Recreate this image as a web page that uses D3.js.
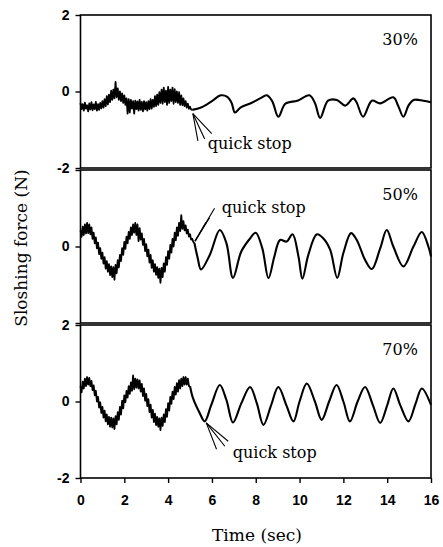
<!DOCTYPE html>
<html>
<head>
<meta charset="utf-8">
<script src="https://cdn.jsdelivr.net/npm/d3@7"></script>
<style>
  body { margin: 0; background: #fff; }
  .tick text { font-family: "Liberation Sans", Arial, sans-serif; font-weight: bold; font-size: 14px; fill: #000; }
  .serif { font-family: "DejaVu Serif", serif; fill: #000; }
</style>
</head>
<body>
<svg id="chart" width="443" height="547"></svg>
<script>
// ---- data ----
const fillLevels = ["30%", "50%", "70%"];
const xTickValues = [0, 2, 4, 6, 8, 10, 12, 14, 16];
const yTickValues = [[-2, 0, 2], [0], [-2, 0, 2]];

// before the quick stop: samples every 0.05 s, starting at t = 0
const sampleStep = 0.05;
const noisy30 = [
  -0.30, -0.46, -0.33, -0.50, -0.29, -0.45, -0.36, -0.52, -0.31, -0.47,
  -0.28, -0.49, -0.34, -0.46, -0.27, -0.50, -0.33, -0.48, -0.30, -0.44,
  -0.25, -0.42, -0.20, -0.38, -0.12, -0.34, -0.08, -0.28, 0.02, -0.22,
  0.05, -0.18, 0.25, -0.15, 0.08, -0.22, 0.00, -0.25, -0.05, -0.30,
  -0.10, -0.35, -0.18, -0.58, -0.20, -0.55, -0.22, -0.45, -0.25, -0.58,
  -0.24, -0.46, -0.26, -0.50, -0.22, -0.48, -0.27, -0.52, -0.25, -0.47,
  -0.28, -0.50, -0.25, -0.46, -0.20, -0.45, -0.22, -0.40, -0.12, -0.38,
  -0.08, -0.35, -0.02, -0.30, 0.05, -0.32, 0.10, -0.28, 0.02, -0.35,
  0.12, -0.30, 0.05, -0.25, 0.10, -0.32, 0.06, -0.28, 0.00, -0.30,
  -0.02, -0.35, -0.10, -0.36, -0.18, -0.38, -0.25, -0.42, -0.32, -0.45,
  -0.40, -0.47, -0.48];
const noisy50 = [
  0.42, 0.25, 0.52, 0.30, 0.58, 0.34, 0.62, 0.35, 0.58, 0.32,
  0.50, 0.20, 0.36, 0.08, 0.24, -0.05, 0.10, -0.20, -0.04, -0.32,
  -0.16, -0.45, -0.28, -0.58, -0.38, -0.66, -0.46, -0.75, -0.52, -0.80,
  -0.54, -0.87, -0.48, -0.70, -0.36, -0.55, -0.22, -0.38, -0.04, -0.22,
  0.12, -0.06, 0.26, 0.08, 0.38, 0.20, 0.50, 0.30, 0.58, 0.36,
  0.62, 0.30, 0.58, 0.14, 0.48, 0.18, 0.34, 0.04, 0.20, -0.12,
  0.06, -0.26, -0.08, -0.42, -0.22, -0.56, -0.36, -0.66, -0.46, -0.74,
  -0.54, -0.82, -0.58, -0.95, -0.56, -0.80, -0.44, -0.66, -0.28, -0.48,
  -0.12, -0.32, 0.04, -0.16, 0.20, 0.00, 0.36, 0.16, 0.50, 0.28,
  0.62, 0.40, 0.82, 0.46, 0.66, 0.42, 0.55, 0.34, 0.44, 0.26,
  0.32, 0.18, 0.20, 0.12, 0.09];
const noisy70 = [
  0.40, 0.24, 0.52, 0.34, 0.60, 0.40, 0.64, 0.44, 0.62, 0.40,
  0.54, 0.30, 0.42, 0.16, 0.28, 0.00, 0.12, -0.16, -0.02, -0.30,
  -0.14, -0.42, -0.24, -0.52, -0.34, -0.60, -0.40, -0.66, -0.42, -0.68,
  -0.44, -0.72, -0.38, -0.60, -0.28, -0.48, -0.14, -0.34, 0.02, -0.18,
  0.16, -0.02, 0.28, 0.10, 0.40, 0.20, 0.50, 0.28, 0.68, 0.32,
  0.60, 0.36, 0.58, 0.34, 0.55, 0.26, 0.46, 0.14, 0.34, 0.02,
  0.20, -0.12, 0.06, -0.28, -0.08, -0.42, -0.22, -0.54, -0.32, -0.62,
  -0.40, -0.66, -0.44, -0.75, -0.42, -0.64, -0.34, -0.54, -0.20, -0.40,
  -0.04, -0.24, 0.12, -0.06, 0.26, 0.06, 0.38, 0.18, 0.48, 0.26,
  0.56, 0.34, 0.60, 0.40, 0.64, 0.44, 0.64, 0.44, 0.60, 0.40,
  0.40];

// after the quick stop: [time, force]
const free30 = [[5.1, -0.48], [5.5, -0.42], [6.0, -0.25], [6.4, -0.10], [6.7, -0.14], [6.9, -0.30],
  [7.05, -0.55], [7.3, -0.42], [7.8, -0.30], [8.2, -0.18], [8.5, -0.10], [8.75, -0.25],
  [9.03, -0.66], [9.35, -0.32], [9.9, -0.24], [10.45, -0.10], [10.7, -0.30], [10.94, -0.69],
  [11.3, -0.24], [11.7, -0.22], [12.08, -0.37], [12.45, -0.18], [12.6, -0.28], [12.9, -0.66],
  [13.3, -0.24], [13.68, -0.31], [14.28, -0.15], [14.5, -0.37], [14.74, -0.66], [14.97, -0.37],
  [15.2, -0.22], [15.65, -0.24], [16.0, -0.28]];
const free50 = [[5.2, 0.09], [5.35, -0.30], [5.5, -0.60], [5.9, -0.22], [6.36, 0.43], [6.66, 0.09],
  [6.96, -0.82], [7.34, -0.13], [7.74, 0.21], [8.0, 0.36], [8.3, -0.05], [8.58, -0.83],
  [8.85, -0.26], [9.11, 0.17], [9.41, 0.13], [9.68, 0.32], [9.95, -0.26], [10.13, -0.84],
  [10.4, -0.22], [10.79, 0.32], [11.09, 0.21], [11.4, -0.09], [11.72, -0.82], [12.0, -0.17],
  [12.35, 0.35], [12.61, 0.17], [12.99, -0.35], [13.3, -0.59], [13.68, -0.05], [13.98, 0.43],
  [14.28, 0.0], [14.74, -0.52], [15.2, 0.0], [15.58, 0.38], [15.88, 0.0], [16.0, -0.26]];
const free70 = [[5.0, 0.40], [5.14, 0.08], [5.44, -0.30], [5.67, -0.52], [5.97, -0.09], [6.36, 0.43],
  [6.66, 0.04], [6.96, -0.55], [7.34, -0.05], [7.74, 0.38], [8.05, -0.05], [8.35, -0.61],
  [8.7, -0.10], [9.03, 0.38], [9.4, -0.10], [9.72, -0.52], [10.0, 0.0], [10.33, 0.47],
  [10.7, 0.0], [11.01, -0.48], [11.35, 0.0], [11.69, 0.43], [12.0, 0.0], [12.3, -0.52],
  [12.65, 0.0], [12.99, 0.38], [13.35, -0.10], [13.68, -0.56], [14.0, -0.10], [14.28, 0.34],
  [14.6, -0.10], [14.97, -0.52], [15.3, -0.05], [15.58, 0.34], [16.0, -0.09]];

// quick stop markers: arrow tip, three stroke ends, text anchor (data coords)
const stopTips = [[5.13, -0.58], [5.23, 0.14], [5.74, -0.56]];
const stopTails = [
  [[5.36, -1.29], [5.67, -1.24], [5.99, -1.10]],
  [[6.12, 1.00], [5.89, 0.75], [5.72, 0.63]],
  [[6.74, -1.04], [6.59, -1.17], [6.21, -1.25]]
];
const stopLabels = [[5.81, -1.50], [6.45, 0.88], [6.95, -1.48]];

const noisy = [noisy30, noisy50, noisy70];
const free = [free30, free50, free70];

// ---- layout ----
const svg = d3.select( "#chart" );
const panelTops = [ 15, 170, 325 ];
const panelH = 153;
const x = d3.scaleLinear().domain( [ 0, 16 ] ).range( [ 80.5, 431 ] );

panelTops.forEach( ( top, i ) => {
    const y = d3.scaleLinear().domain( [ -2, 2 ] ).range( [ top + panelH, top ] );
    const g = svg.append( "g" );

    const line = d3.line().x( d => x( d[ 0 ] ) ).y( d => y( d[ 1 ] ) );

    // noisy part before the stop
    const noisyPts = noisy[ i ].map( ( v, k ) => [ k * sampleStep, v ] );
    g.append( "path" )
        .attr( "d", line( noisyPts ) )
        .attr( "fill", "none" )
        .attr( "stroke", "#000" )
        .attr( "stroke-width", 1.8 )
        .attr( "stroke-linejoin", "round" );

    // free sloshing after the stop
    g.append( "path" )
        .attr( "d", line.curve( d3.curveCatmullRom )( free[ i ] ) )
        .attr( "fill", "none" )
        .attr( "stroke", "#000" )
        .attr( "stroke-width", 2.1 );

    // panel box
    g.append( "rect" )
        .attr( "x", x( 0 ) )
        .attr( "y", top )
        .attr( "width", x( 16 ) - x( 0 ) )
        .attr( "height", panelH )
        .attr( "fill", "none" )
        .attr( "stroke", "#000" )
        .attr( "stroke-width", 1.6 );

    // y axis
    const yAxis = g.append( "g" )
        .attr( "transform", `translate(${ x( 0 ) },0)` )
        .call( d3.axisLeft( y ).tickValues( [ -2, 0, 2 ] ).tickSize( 5 ).tickPadding( 6 )
            .tickFormat( d => yTickValues[ i ].includes( d ) ? d : "" ) );
    yAxis.select( ".domain" ).remove();
    yAxis.selectAll( ".tick line" ).attr( "stroke-width", 1.4 );

    // fill level
    g.append( "text" )
        .attr( "class", "serif" )
        .attr( "x", x( 15.4 ) )
        .attr( "y", y( 1.22 ) )
        .attr( "text-anchor", "end" )
        .style( "font-size", "16px" )
        .text( fillLevels[ i ] );

    // quick stop annotation
    const tip = stopTips[ i ];
    g.selectAll( "line.arrow" )
        .data( stopTails[ i ] )
        .enter()
        .append( "line" )
        .attr( "class", "arrow" )
        .attr( "x1", x( tip[ 0 ] ) )
        .attr( "y1", y( tip[ 1 ] ) )
        .attr( "x2", d => x( d[ 0 ] ) )
        .attr( "y2", d => y( d[ 1 ] ) )
        .attr( "stroke", "#000" )
        .attr( "stroke-width", 1.1 );

    g.append( "text" )
        .attr( "class", "serif" )
        .attr( "x", x( stopLabels[ i ][ 0 ] ) )
        .attr( "y", y( stopLabels[ i ][ 1 ] ) )
        .style( "font-size", "16px" )
        .text( "quick stop" );

    // x axis on the bottom panel
    if ( i === panelTops.length - 1 ) {
        const xAxis = g.append( "g" )
            .attr( "transform", `translate(0,${ top + panelH })` )
            .call( d3.axisBottom( x ).tickValues( xTickValues ).tickSize( 5 ).tickPadding( 12 ) );
        xAxis.select( ".domain" ).remove();
        xAxis.selectAll( ".tick line" ).attr( "stroke-width", 1.4 );
    }
} );

svg.append( "text" )
    .attr( "class", "serif" )
    .attr( "transform", "translate(27,248) rotate(-90)" )
    .attr( "text-anchor", "middle" )
    .style( "font-size", "17px" )
    .text( "Sloshing force (N)" );

svg.append( "text" )
    .attr( "class", "serif" )
    .attr( "x", 257 )
    .attr( "y", 541 )
    .attr( "text-anchor", "middle" )
    .style( "font-size", "17px" )
    .text( "Time (sec)" );
</script>
</body>
</html>
